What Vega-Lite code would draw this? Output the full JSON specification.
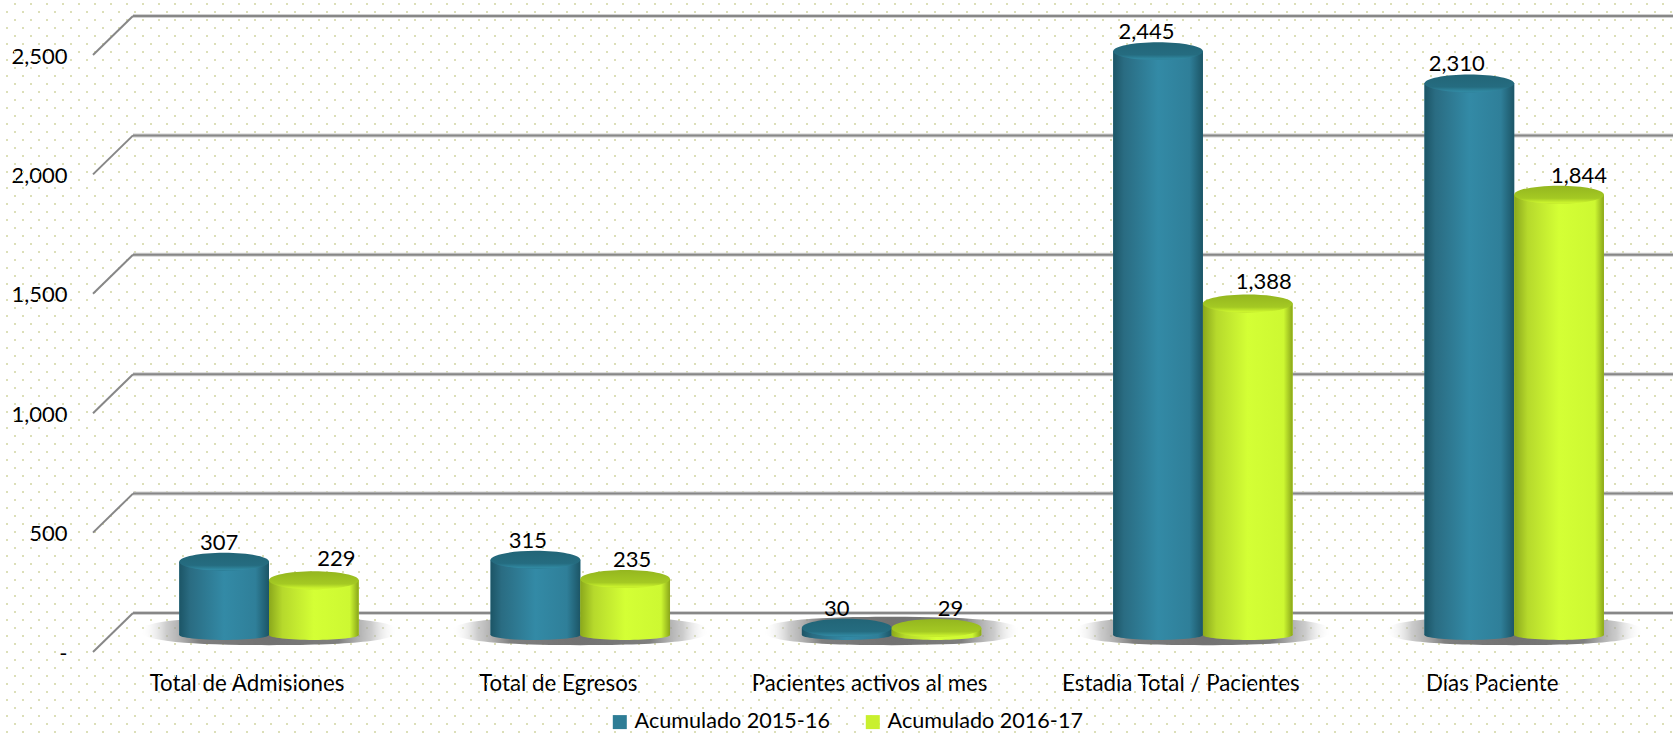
{"$schema":"https://vega.github.io/schema/vega-lite/v6.json","width":1580,"height":597,"autosize":"none","padding":{"left":93,"top":55,"right":0,"bottom":81},"background":"#ffffff","config":{"view":{"stroke":null},"font":"Lato"},
"datasets":{
"bars":[
{"c":"Total de Admisiones","s":"Acumulado 2015-16","val":307},{"c":"Total de Admisiones","s":"Acumulado 2016-17","val":229},
{"c":"Total de Egresos","s":"Acumulado 2015-16","val":315},{"c":"Total de Egresos","s":"Acumulado 2016-17","val":235},
{"c":"Pacientes activos al mes","s":"Acumulado 2015-16","val":30},{"c":"Pacientes activos al mes","s":"Acumulado 2016-17","val":29},
{"c":"Estadia Total / Pacientes","s":"Acumulado 2015-16","val":2445},{"c":"Estadia Total / Pacientes","s":"Acumulado 2016-17","val":1388},
{"c":"Días Paciente","s":"Acumulado 2015-16","val":2310},{"c":"Días Paciente","s":"Acumulado 2016-17","val":1844}],
"ticks":[{"v":0},{"v":500},{"v":1000},{"v":1500},{"v":2000},{"v":2500}],
"dotsA":[{"v":2713.6},{"v":2646.6},{"v":2579.6},{"v":2512.6},{"v":2445.6},{"v":2378.6},{"v":2311.6},{"v":2244.6},{"v":2177.6},{"v":2110.6},{"v":2043.6},{"v":1976.6},{"v":1909.6},{"v":1842.6},{"v":1775.6},{"v":1708.6},{"v":1641.6},{"v":1574.6},{"v":1507.6},{"v":1440.6},{"v":1373.6},{"v":1306.6},{"v":1239.6},{"v":1172.6},{"v":1105.6},{"v":1038.6},{"v":971.6},{"v":904.6},{"v":837.6},{"v":770.6},{"v":703.6},{"v":636.6},{"v":569.6},{"v":502.6},{"v":435.6},{"v":368.6},{"v":301.6},{"v":234.6},{"v":167.6},{"v":100.6},{"v":33.6},{"v":-33.4},{"v":-100.4},{"v":-167.4},{"v":-234.4},{"v":-301.4}],
"dotsB":[{"v":2680.1},{"v":2613.1},{"v":2546.1},{"v":2479.1},{"v":2412.1},{"v":2345.1},{"v":2278.1},{"v":2211.1},{"v":2144.1},{"v":2077.1},{"v":2010.1},{"v":1943.1},{"v":1876.1},{"v":1809.1},{"v":1742.1},{"v":1675.1},{"v":1608.1},{"v":1541.1},{"v":1474.1},{"v":1407.1},{"v":1340.1},{"v":1273.1},{"v":1206.1},{"v":1139.1},{"v":1072.1},{"v":1005.1},{"v":938.1},{"v":871.1},{"v":804.1},{"v":737.1},{"v":670.1},{"v":603.1},{"v":536.1},{"v":469.1},{"v":402.1},{"v":335.1},{"v":268.1},{"v":201.1},{"v":134.1},{"v":67.1},{"v":0.1},{"v":-66.9},{"v":-133.9},{"v":-200.9},{"v":-267.9},{"v":-334.9}]
},
"data":{"name":"bars"},
"encoding":{
"x":{"field":"c","type":"nominal","sort":null,"title":null,"scale":{"domain":["Total de Admisiones","Total de Egresos","Pacientes activos al mes","Estadia Total / Pacientes","Días Paciente"],"range":[20.35,1576.85],"paddingInner":0,"paddingOuter":0},"axis":{"labelAngle":0,"labelFont":"Lato","labelFontSize":22.3,"labelLimit":400,"labelColor":"#000000","ticks":false,"domain":false,"grid":false,"labelPadding":31,"labelBaseline":"middle","labelOffset":-22,"labelOverlap":false}},
"xOffset":{"field":"s","type":"nominal","scale":{"domain":["Acumulado 2015-16","Acumulado 2016-17"],"paddingInner":0,"paddingOuter":0.735}},
"y":{"field":"val","type":"quantitative","title":null,"scale":{"domain":[0,2500],"nice":false,"zero":false},"axis":{"values":[0,500,1000,1500,2000,2500],"labelExpr":"datum.value===0?'-\u00a0\u00a0':format(datum.value,',')","labelFont":"Lato","labelFontSize":22,"labelColor":"#000000","ticks":false,"domain":false,"grid":false,"labelPadding":26,"labelOffset":1}}
},
"layer":[
{"data":{"name":"dotsA"},"mark":{"type":"rule","stroke":"#dcdfb8","strokeWidth":2,"strokeDash":[2,14],"strokeDashOffset":2},"encoding":{"x":{"value":-93},"x2":{"value":1580},"xOffset":null,"y":{"field":"v","type":"quantitative","title":null}}},
{"data":{"name":"dotsB"},"mark":{"type":"rule","stroke":"#dcdfb8","strokeWidth":2,"strokeDash":[2,14],"strokeDashOffset":10},"encoding":{"x":{"value":-93},"x2":{"value":1580},"xOffset":null,"y":{"field":"v","type":"quantitative","title":null}}},
{"data":{"name":"ticks"},"mark":{"type":"rule","stroke":"#d0d0d0","strokeWidth":4,"yOffset":-39},"encoding":{"x":{"value":40},"x2":{"value":1580},"xOffset":null,"y":{"field":"v","type":"quantitative","title":null}}},
{"data":{"name":"ticks"},"mark":{"type":"rule","stroke":"#878787","strokeWidth":2,"yOffset":-39},"encoding":{"x":{"value":40},"x2":{"value":1580},"xOffset":null,"y":{"field":"v","type":"quantitative","title":null}}},
{"data":{"name":"ticks"},"mark":{"type":"rule","stroke":"#878787","strokeWidth":2,"y2Offset":-39},"encoding":{"x":{"value":0},"x2":{"value":40},"xOffset":null,"y":{"field":"v","type":"quantitative","title":null},"y2":{"field":"v"}}},
{"transform":[{"filter":"datum.s=='Acumulado 2015-16'"}],"mark":{"type":"point","filled":true,"shape":"M-1,0 C-1,-0.07 -0.7,-0.11 0,-0.11 C0.7,-0.11 1,-0.07 1,0 C1,0.07 0.7,0.11 0,0.11 C-0.7,0.11 -1,0.07 -1,0 Z","size":66000,"opacity":1,"yOffset":-21,"fill":{"gradient":"radial","x1":0.5,"y1":0.5,"r1":0,"x2":0.5,"y2":0.5,"r2":0.5,"stops":[{"offset":0,"color":"#707070"},{"offset":0.55,"color":"rgba(120,120,120,0.95)"},{"offset":0.8,"color":"rgba(170,170,170,0.6)"},{"offset":1,"color":"rgba(255,255,255,0)"}]}},"encoding":{"xOffset":null,"y":{"datum":0}}},
{"mark":{"type":"bar","yOffset":-17,"y2Offset":-17},"encoding":{"y2":{"datum":0},"color":{"field":"s","type":"nominal","scale":{"domain":["Acumulado 2015-16","Acumulado 2016-17"],"range":["#2e7d96","#c9f02e"]},"legend":{"title":null,"orient":"none","legendX":516,"legendY":656,"direction":"horizontal","columns":2,"symbolType":"square","symbolSize":196,"symbolStrokeWidth":0,"labelFont":"Lato","labelFontSize":21.6,"labelLimit":400,"labelColor":"#000000","labelOffset":4,"columnPadding":32}}}},
{"transform":[{"filter":"datum.s=='Acumulado 2015-16'"}],"mark":{"type":"point","filled":true,"opacity":1,"shape":"M-1,0 C-1,-0.06 -0.55,-0.11 0,-0.11 C0.55,-0.11 1,-0.06 1,0 C1,0.06 0.55,0.11 0,0.11 C-0.55,0.11 -1,0.06 -1,0 Z","size":8046,"yOffset":-17,"fill":{"gradient":"linear","x1":0,"y1":0,"x2":1,"y2":0,"stops":[{"offset":0,"color":"#1c5566"},{"offset":0.12,"color":"#2a6c82"},{"offset":0.5,"color":"#338aa6"},{"offset":0.85,"color":"#2f7f99"},{"offset":1,"color":"#1c5566"}]}},"encoding":{"y":{"datum":0}}},
{"transform":[{"filter":"datum.s=='Acumulado 2016-17'"}],"mark":{"type":"point","filled":true,"opacity":1,"shape":"M-1,0 C-1,-0.06 -0.55,-0.11 0,-0.11 C0.55,-0.11 1,-0.06 1,0 C1,0.06 0.55,0.11 0,0.11 C-0.55,0.11 -1,0.06 -1,0 Z","size":8046,"yOffset":-17,"fill":{"gradient":"linear","x1":0,"y1":0,"x2":1,"y2":0,"stops":[{"offset":0,"color":"#8ba81c"},{"offset":0.15,"color":"#b6d92c"},{"offset":0.5,"color":"#d4ff35"},{"offset":0.9,"color":"#cdf832"},{"offset":1,"color":"#8aa61a"}]}},"encoding":{"y":{"datum":0}}},
{"transform":[{"filter":"datum.s=='Acumulado 2015-16'"}],"mark":{"type":"bar","yOffset":-17,"y2Offset":-17,"fill":{"gradient":"linear","x1":0,"y1":0,"x2":1,"y2":0,"stops":[{"offset":0,"color":"#1c5566"},{"offset":0.12,"color":"#2a6c82"},{"offset":0.5,"color":"#338aa6"},{"offset":0.85,"color":"#2f7f99"},{"offset":1,"color":"#1c5566"}]}},"encoding":{"y2":{"datum":0}}},
{"transform":[{"filter":"datum.s=='Acumulado 2016-17'"}],"mark":{"type":"bar","yOffset":-17,"y2Offset":-17,"fill":{"gradient":"linear","x1":0,"y1":0,"x2":1,"y2":0,"stops":[{"offset":0,"color":"#8ba81c"},{"offset":0.15,"color":"#b6d92c"},{"offset":0.5,"color":"#d4ff35"},{"offset":0.9,"color":"#cdf832"},{"offset":1,"color":"#8aa61a"}]}},"encoding":{"y2":{"datum":0}}},
{"transform":[{"filter":"datum.s=='Acumulado 2015-16'"}],"mark":{"type":"point","filled":true,"opacity":1,"shape":"M-1,0 C-1,-0.11 -0.55,-0.2 0,-0.2 C0.55,-0.2 1,-0.11 1,0 C1,0.11 0.55,0.2 0,0.2 C-0.55,0.2 -1,0.11 -1,0 Z","size":8046,"yOffset":-17,"fill":{"gradient":"linear","x1":0,"y1":0,"x2":0,"y2":1,"stops":[{"offset":0,"color":"#226577"},{"offset":0.7,"color":"#256c80"},{"offset":0.95,"color":"#318aa3"},{"offset":1,"color":"#2a7a92"}]}}},
{"transform":[{"filter":"datum.s=='Acumulado 2016-17'"}],"mark":{"type":"point","filled":true,"opacity":1,"shape":"M-1,0 C-1,-0.11 -0.55,-0.2 0,-0.2 C0.55,-0.2 1,-0.11 1,0 C1,0.11 0.55,0.2 0,0.2 C-0.55,0.2 -1,0.11 -1,0 Z","size":8046,"yOffset":-17,"fill":{"gradient":"linear","x1":0,"y1":0,"x2":0,"y2":1,"stops":[{"offset":0,"color":"#94b61f"},{"offset":0.7,"color":"#a4c923"},{"offset":0.95,"color":"#ccf52e"},{"offset":1,"color":"#bde029"}]}}},
{"encoding":{"text":{"field":"val","type":"quantitative","format":","}},"layer":[
{"transform":[{"filter":"datum.val==307"}],"mark":{"type":"text","font":"Lato","fontSize":22,"color":"#000000","baseline":"middle","dx":-5,"dy":-36}},
{"transform":[{"filter":"datum.val==229"}],"mark":{"type":"text","font":"Lato","fontSize":22,"color":"#000000","baseline":"middle","dx":22.5,"dy":-38.6}},
{"transform":[{"filter":"datum.val==315"}],"mark":{"type":"text","font":"Lato","fontSize":22,"color":"#000000","baseline":"middle","dx":-7.5,"dy":-36}},
{"transform":[{"filter":"datum.val==235"}],"mark":{"type":"text","font":"Lato","fontSize":22,"color":"#000000","baseline":"middle","dx":7,"dy":-36}},
{"transform":[{"filter":"datum.val==30"}],"mark":{"type":"text","font":"Lato","fontSize":22,"color":"#000000","baseline":"middle","dx":-10,"dy":-36}},
{"transform":[{"filter":"datum.val==29"}],"mark":{"type":"text","font":"Lato","fontSize":22,"color":"#000000","baseline":"middle","dx":14,"dy":-36}},
{"transform":[{"filter":"datum.val==2445"}],"mark":{"type":"text","font":"Lato","fontSize":22,"color":"#000000","baseline":"middle","dx":-11.5,"dy":-36}},
{"transform":[{"filter":"datum.val==1388"}],"mark":{"type":"text","font":"Lato","fontSize":22,"color":"#000000","baseline":"middle","dx":16,"dy":-39}},
{"transform":[{"filter":"datum.val==2310"}],"mark":{"type":"text","font":"Lato","fontSize":22,"color":"#000000","baseline":"middle","dx":-12.5,"dy":-36}},
{"transform":[{"filter":"datum.val==1844"}],"mark":{"type":"text","font":"Lato","fontSize":22,"color":"#000000","baseline":"middle","dx":20,"dy":-35.6}}
]}
]}
